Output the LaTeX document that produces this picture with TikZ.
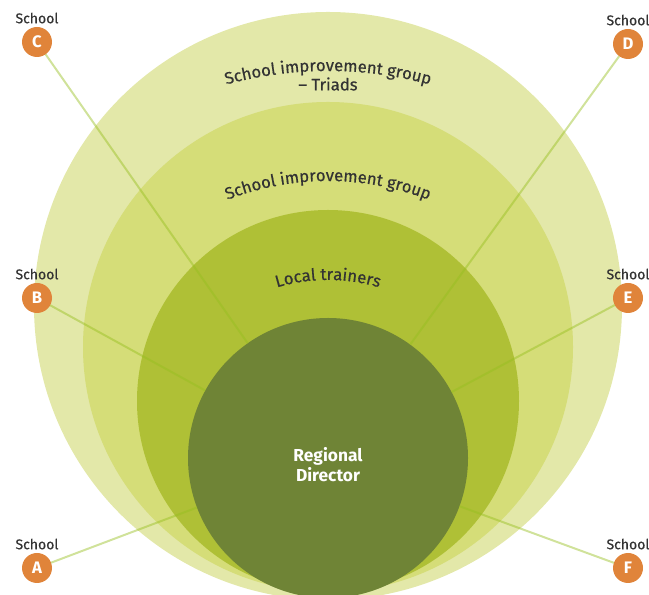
\documentclass[tikz,border=0pt]{standalone}
\usepackage{fontspec}
\setmainfont{Fira Sans}
\newfontfamily\medfont{Fira Sans}[FakeBold=0.5]
\usepackage{xcolor}
\usepackage{tikz}
\usetikzlibrary{decorations.text}

\definecolor{ringouter}{HTML}{E3E8A9}
\definecolor{ringsig}{HTML}{D5DD78}
\definecolor{ringlocal}{HTML}{AFC036}
\definecolor{ringinner}{HTML}{6F8436}
\definecolor{schoolorange}{HTML}{E0843A}
\definecolor{linkgreen}{HTML}{96BE1E}
\definecolor{labelgray}{HTML}{333333}

\begin{document}
\begin{tikzpicture}[
    x=0.75pt, y=0.75pt,
    ring/.style={circle, fill=#1, draw=none, inner sep=0pt, outer sep=0pt},
    school/.style={circle, fill=schoolorange, text=white, font=\fontsize{12.5}{12.5}\selectfont\bfseries, minimum size=22.5pt, inner sep=0pt, outer sep=0pt,
        label={[font=\medfont\fontsize{10.5}{11}\selectfont, text=labelgray, inner sep=1pt, yshift=1.5pt]above:School}},
    link/.style={line width=1.5pt, draw=linkgreen, draw opacity=0.45},
    arclabel/.style={decorate, decoration={text along path, text align=center, text={#1}}}
]
\useasboundingbox (0,0) rectangle (649,595);

% Rings
\node[ring=ringouter, minimum size=441pt] (triads) at (328,289) {};
\node[ring=ringsig, minimum size=367.5pt] (sig) at (328,248) {};
\node[ring=ringlocal, minimum size=286.5pt] (trainers) at (328,194) {};
\node[ring=ringinner, minimum size=210pt,
    label={[font=\fontsize{13}{15.5}\selectfont\bfseries, text=white, align=center, yshift=-5pt]center:Regional\\Director}] (rd) at (328,137) {};

% Ring labels
\path[arclabel={|\medfont\fontsize{12.5}{14}\selectfont\color{labelgray}|School improvement group}] (328,137) ++(120:387) arc[start angle=120, end angle=60, radius=387];
\node[font=\medfont\fontsize{12.5}{14}\selectfont, text=labelgray] (triadline) at (328,511) {– Triads};
\path[arclabel={|\medfont\fontsize{12.5}{14}\selectfont\color{labelgray}|School improvement group}] (328,137) ++(145:277) arc[start angle=145, end angle=35, radius=277];
\path[arclabel={|\medfont\fontsize{12.5}{14}\selectfont\color{labelgray}|Local trainers}] (328,137) ++(160:178) arc[start angle=160, end angle=20, radius=178];

% Schools
\node[school] (A) at (37,27) {A};
\node[school] (B) at (37,297) {B};
\node[school] (C) at (37,553) {C};
\node[school] (D) at (628,551) {D};
\node[school] (E) at (628,297) {E};
\node[school] (F) at (628,27) {F};

% Links to the director
\foreach \s in {A,B,C,D,E,F}
    \draw[link] (\s) -- (rd);

\end{tikzpicture}
\end{document}
